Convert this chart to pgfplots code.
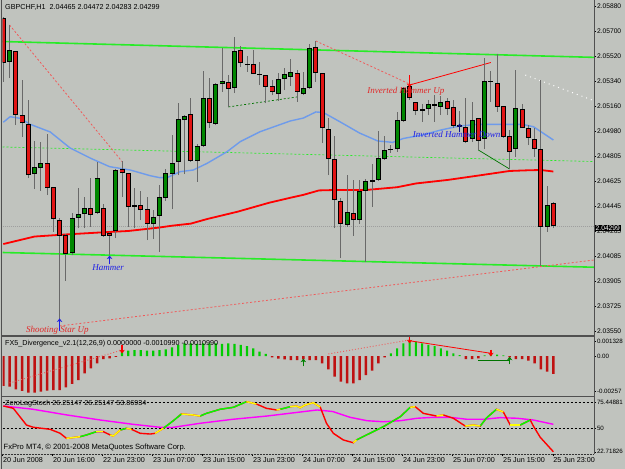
\documentclass[border=0pt]{standalone}
\usepackage{pgfplots}
\pgfplotsset{compat=1.18}
\usepackage{pgfplotstable}
\usepackage{fontspec}
\setmainfont{Liberation Sans}
\newfontfamily\annot{Liberation Serif}
\usetikzlibrary{arrows.meta}

\definecolor{bg}{RGB}{192,195,190}
\definecolor{cred}{RGB}{225,20,20}
\definecolor{cgreen}{RGB}{0,135,0}
\definecolor{wick}{RGB}{105,105,105}
\definecolor{lime}{RGB}{40,235,40}
\definecolor{mablue}{RGB}{110,155,235}
\definecolor{frame}{RGB}{80,80,80}
\definecolor{salmon}{RGB}{240,90,90}
\definecolor{mag}{RGB}{255,0,255}
\definecolor{yel}{RGB}{255,255,0}
\definecolor{annred}{RGB}{225,40,40}
\definecolor{annblue}{RGB}{30,30,230}

\newcommand{\tf}{\fontsize{7.2bp}{8bp}\selectfont}
\newcommand{\yf}{\fontsize{6.7bp}{7.5bp}\selectfont}
\newcommand{\pf}{\fontsize{6.2bp}{7bp}\selectfont}

\pgfplotstableread{
k o h l c
1 2.05482 2.05748 2.05366 2.05568
5 2.04675 2.04913 2.04567 2.04726
6 2.04718 2.04906 2.04553 2.04754
11 2.04106 2.04394 2.04092 2.04358
12 2.04358 2.04574 2.04286 2.04387
13 2.04387 2.0451 2.04286 2.0443
15 2.04394 2.04762 2.04387 2.04646
18 2.04265 2.04711 2.04214 2.04704
24 2.04315 2.04416 2.04207 2.04366
25 2.04373 2.04596 2.04114 2.0451
26 2.04502 2.04711 2.04481 2.04682
27 2.04675 2.04956 2.04423 2.04754
28 2.04762 2.05186 2.04668 2.05071
29 2.05064 2.051 2.04675 2.05093
31 2.04769 2.04891 2.04618 2.04877
32 2.04877 2.05417 2.0487 2.05222
34 2.05035 2.0533 2.05028 2.05323
35 2.05323 2.05582 2.05266 2.05345
37 2.05294 2.05662 2.05258 2.05561
44 2.05251 2.05402 2.05201 2.05359
45 2.05359 2.05438 2.0528 2.05395
46 2.05374 2.05503 2.05309 2.0541
48 2.05251 2.0541 2.05244 2.05294
49 2.05294 2.05611 2.05287 2.05582
55 2.04308 2.04668 2.04294 2.04402
57 2.04344 2.04632 2.04315 2.04553
58 2.04553 2.04639 2.04042 2.04625
59 2.04618 2.04747 2.04438 2.04632
60 2.04632 2.04985 2.04625 2.0479
61 2.04783 2.04949 2.04776 2.04848
63 2.04855 2.05122 2.04834 2.05064
64 2.05057 2.05302 2.0505 2.05294
68 2.05143 2.05208 2.051 2.05179
70 2.05158 2.05237 2.051 2.05194
75 2.04927 2.05194 2.04906 2.05064
77 2.04927 2.0551 2.04855 2.05345
82 2.04855 2.05424 2.04798 2.0515
87 2.04294 2.04589 2.04258 2.04452
}\bull

\pgfplotstableread{
k o h l c
0 2.05798 2.05806 2.05338 2.05474
2 2.05561 2.05561 2.05028 2.051
3 2.051 2.05352 2.04942 2.05042
4 2.05035 2.05208 2.04646 2.04668
7 2.04754 2.04963 2.04524 2.04574
8 2.04582 2.04582 2.04258 2.04351
9 2.04344 2.04358 2.03566 2.04229
10 2.04236 2.04243 2.03905 2.04099
14 2.0443 2.04646 2.04294 2.0438
16 2.0443 2.04459 2.04222 2.04229
17 2.0425 2.04258 2.04092 2.04229
19 2.04711 2.04769 2.0451 2.04682
20 2.04682 2.04682 2.04294 2.04438
21 2.04445 2.04574 2.04286 2.04441
22 2.04452 2.04553 2.04344 2.04416
23 2.04423 2.0451 2.042 2.04315
30 2.05107 2.05222 2.04762 2.04769
33 2.05222 2.05366 2.05006 2.05042
36 2.05338 2.05388 2.05158 2.05287
38 2.05568 2.05597 2.05446 2.05474
39 2.05467 2.05525 2.0541 2.0546
40 2.05467 2.05568 2.05395 2.05395
41 2.05395 2.05482 2.05316 2.05388
42 2.05388 2.05388 2.05186 2.05302
43 2.05309 2.05352 2.05244 2.05266
47 2.05402 2.05424 2.05194 2.05266
50 2.0559 2.05633 2.05338 2.05402
51 2.05402 2.05402 2.04898 2.05006
52 2.04999 2.05078 2.04668 2.04783
53 2.04783 2.04949 2.04286 2.04488
54 2.04481 2.04502 2.0407 2.04315
56 2.04394 2.04632 2.04229 2.04344
62 2.04848 2.04884 2.04827 2.04845
65 2.05309 2.05352 2.05208 2.05222
66 2.05194 2.05194 2.051 2.05129
67 2.05136 2.05179 2.0505 2.05132
69 2.05172 2.05244 2.0505 2.05168
71 2.05201 2.05222 2.051 2.05143
72 2.05158 2.05208 2.05006 2.05021
73 2.05028 2.05129 2.04978 2.05014
74 2.05014 2.05222 2.04898 2.04906
76 2.05078 2.05078 2.04848 2.04913
78 2.05345 2.05417 2.05194 2.05338
79 2.0533 2.05539 2.05122 2.05158
80 2.05165 2.05165 2.04934 2.04942
81 2.04949 2.04992 2.04711 2.04834
83 2.05143 2.05179 2.05006 2.05006
84 2.05006 2.05028 2.04884 2.04934
85 2.04927 2.05006 2.04798 2.04855
86 2.04855 2.05352 2.04013 2.04294
88 2.04465 2.04472 2.04283 2.04299
}\bear

\pgfplotstableread{
k v
0 2.04171
5 2.04225
10 2.0424
15 2.04253
20 2.04265
25 2.0429
27 2.04303
30 2.04318
32.6 2.04351
37.5 2.04404
42.5 2.04468
46 2.04505
48 2.04525
50.5 2.04557
53 2.0456
58 2.0456
63 2.0458
66 2.04607
71 2.04632
76 2.04664
81 2.04697
84 2.04702
86 2.04704
88 2.04693
}\redma

\pgfplotstableread{
k v
0 2.05048
1.1 2.05088
2.7 2.05076
4.3 2.05033
7.5 2.04978
10.7 2.04862
13.9 2.0479
17 2.04728
20.3 2.04704
23.5 2.04663
25 2.04649
26.2 2.04649
28.3 2.04692
30.4 2.04704
32.6 2.04752
35.8 2.04836
37.9 2.04908
41.1 2.0498
45.9 2.05057
48 2.05078
50 2.05122
51.2 2.05118
53.9 2.0505
57 2.0497
59.9 2.04913
62.3 2.04903
64 2.04931
67 2.04956
70 2.04992
73 2.05021
76 2.05033
80 2.05033
83 2.05033
84.8 2.05016
88 2.0492
}\bluema

\pgfplotstableread{
k v
0 -0.00222
1 -0.00227
2 -0.00247
3 -0.00259
4 -0.00272
5 -0.00272
6 -0.00264
7 -0.00257
8 -0.00252
9 -0.00252
10 -0.00232
11 -0.00207
12 -0.00178
13 -0.00128
14 -0.00091
15 -0.00054
16 -0.00024
17 -0.00017
18 -0.00007
43 -0.00010
44 -0.00020
45 -0.00025
46 -0.00030
47 -0.00030
48 -0.00025
49 -0.00030
50 -0.00030
51 -0.00054
52 -0.00099
53 -0.00153
54 -0.00190
55 -0.00202
56 -0.00202
57 -0.00178
58 -0.00141
59 -0.00109
60 -0.00054
61 -0.00010
74 -0.00024
75 -0.00024
76 -0.00017
81 -0.00010
82 -0.00024
83 -0.00024
84 -0.00035
85 -0.00054
86 -0.00099
87 -0.00116
88 -0.00133
}\histneg

\pgfplotstableread{
k v
19 0.00039
20 0.00039
21 0.00044
22 0.00044
23 0.00039
24 0.00039
25 0.00044
26 0.00050
27 0.00064
28 0.00082
29 0.00094
30 0.00094
31 0.00089
32 0.00094
33 0.00094
34 0.00094
35 0.00089
36 0.00094
37 0.00089
38 0.00082
39 0.00074
40 0.00057
41 0.00032
42 0.00015
62 0.00020
63 0.00057
64 0.00094
65 0.00119
66 0.00106
67 0.00094
68 0.00082
69 0.00074
70 0.00057
71 0.00039
72 0.00020
73 0.00007
77 0.00005
78 0.00010
79 0.00010
80 0.00005
}\histpos

\pgfplotstableread{
k v
0 71.8
4.75 68.6
10.2 63.0
15.5 58.1
20.75 53.9
25.1 51.0
27 50.8
31.5 54.9
36.7 58.8
42.2 62.0
47.5 65.9
50.2 67.9
52.7 66.4
55.5 60.7
58.2 57.4
60.8 56.4
63.5 57.4
66.2 59.8
68.8 60.7
71.5 60.7
74.2 58.8
76.8 58.8
79.5 60.4
82.2 59.8
84.8 58.1
88 53.9
}\signal

\pgfplotstableread{
k v
0 71.8
1.6 69.5
3.7 53.2
4.8 51.0
7.5 49.0
9.1 45.1
10.1 40.2
12.3 41.8
13.3 43.5
14.9 46.7
16.0 46.7
17.1 43.5
17.6 42.5
18.7 48.3
19.7 50.0
20.5 49.0
21.9 45.1
23.5 44.4
24.3 45.1
25.6 50.0
27.2 57.4
28.5 64.0
30.4 63.0
31.5 62.0
32.5 64.6
34.7 68.6
36.8 70.5
38.9 76.0
40.5 73.7
42.1 69.5
43.7 67.9
44.3 68.6
45.9 71.1
46.9 71.8
47.5 70.1
48.3 72.8
49.6 75.0
50.7 70.8
51.7 54.9
52.8 45.1
54.4 38.6
56.0 35.9
56.5 38.6
58.1 43.5
60.8 51.6
63.5 61.3
65.1 70.5
65.9 71.1
67.2 64.6
69.3 62.0
70.4 63.0
72.0 59.8
73.9 52.2
75.2 53.2
76.3 52.2
77.3 60.1
78.9 68.6
80.0 65.9
81.1 53.2
82.7 53.2
84.3 58.1
84.8 52.2
85.9 41.2
88.0 27.1
}\stoch

\tikzset{ann/.style={anchor=west, inner sep=0pt, font=\annot\itshape\fontsize{9bp}{10bp}\selectfont}}

\pgfplotsset{
  mt/.style={scale only axis, width=591.5bp, xmin=-0.13, xmax=94.5,
    axis line style={draw=none}, tick style={black, line width=0.5bp},
    tick align=outside, major tick length=2.2bp, xtick=\empty,
    ytick pos=right, yticklabel pos=right,
    scaled y ticks=false, scaled x ticks=false,
    ticklabel style={font=\tf, inner sep=0.6bp},
    yticklabel style={font=\yf},
    /pgf/number format/assume math mode=true},
  wickst/.style={draw=none, mark=none, error bars/.cd, y dir=plus, y explicit,
    error mark=none, error bar style={draw=wick, line width=0.9bp}},
  bodyo/.style={draw=none, mark=none, error bars/.cd, y dir=plus, y explicit,
    error mark=none, error bar style={draw=black, line width=5bp}},
  bodyi/.style={draw=none, mark=none, error bars/.cd, y dir=plus, y explicit,
    error mark=none, error bar style={draw=#1, line width=3.2bp}},
  arr/.style={line width=1.6bp, -{Stealth[length=3.5bp,width=5.5bp]}},
  sg/.style={green, line width=1.4bp, restrict x to domain=#1},
  sy/.style={yel, line width=1.4bp, restrict x to domain=#1},
}

\begin{document}
\begin{tikzpicture}
\useasboundingbox (0,0) rectangle (625bp,-469bp);
\fill[bg] (0,0) rectangle (625bp,-469bp);

% ---------- main price panel ----------
\begin{axis}[mt, at={(2.5bp,-335bp)}, anchor=south west, height=334bp,
  ymin=2.03516, ymax=2.059208,
  ytick={2.0354,2.0372,2.0390,2.0408,2.0426,2.0444,2.0462,2.0480,2.0498,2.0516,2.0534,2.0552,2.0570,2.0588},
  yticklabels={2.03550,2.03725,2.03905,2.04085,2.04265,2.04445,2.04625,2.04805,2.04980,2.05160,2.05340,2.05520,2.05700,2.05880}]
\addplot[lime, line width=1.6bp] coordinates {(-0.13,2.05629) (94.5,2.05515)};
\addplot[lime, line width=1.6bp] coordinates {(-0.13,2.04110) (94.5,2.04004)};
\addplot[lime, dash pattern=on 2bp off 2bp, line width=0.7bp] coordinates {(-0.13,2.04870) (94.5,2.04765)};
\addplot[gray!75, dash pattern=on 1bp off 1bp, line width=0.8bp] coordinates {(-0.13,2.04299) (94.5,2.04299)};
\addplot[red, line width=1.8bp] table[x=k,y=v] {\redma};
\addplot[mablue, line width=1.4bp] table[x=k,y=v] {\bluema};
\addplot[salmon, dash pattern=on 2bp off 2bp, line width=0.8bp] coordinates {(1,2.05748) (19,2.04765)};
\addplot[salmon, dash pattern=on 2bp off 2bp, line width=0.8bp] coordinates {(9,2.03581) (94.5,2.04056)};
\addplot[salmon, dash pattern=on 2bp off 2bp, line width=0.8bp] coordinates {(50,2.05633) (65,2.05323)};
\addplot[red, line width=0.8bp] coordinates {(65,2.05316) (78,2.05478)};
\addplot[white, dash pattern=on 1bp off 4bp, line width=1bp] coordinates {(83.5,2.05388) (94.2,2.05208)};
\addplot[green!45!black, dash pattern=on 2bp off 2bp, line width=0.7bp] coordinates {(36,2.05158) (47,2.0523)};
\addplot[green!45!black, line width=0.7bp] coordinates {(76,2.04848) (81,2.04711)};
% wicks
\addplot[wickst] table[x=k, y=l, y error plus expr={\thisrow{h}-\thisrow{l}}] {\bull};
\addplot[wickst] table[x=k, y=l, y error plus expr={\thisrow{h}-\thisrow{l}}] {\bear};
% bodies
\addplot[bodyo] table[x=k, y expr={min(\thisrow{o},\thisrow{c})}, y error plus expr={max(abs(\thisrow{c}-\thisrow{o}),0.00008)}] {\bull};
\addplot[bodyo] table[x=k, y expr={min(\thisrow{o},\thisrow{c})}, y error plus expr={max(abs(\thisrow{c}-\thisrow{o}),0.00008)}] {\bear};
\addplot[bodyi=cgreen] table[x=k, y expr={min(\thisrow{o},\thisrow{c})+0.00007}, y error plus expr={max(abs(\thisrow{c}-\thisrow{o})-0.00014,0)}] {\bull};
\addplot[bodyi=cred] table[x=k, y expr={min(\thisrow{o},\thisrow{c})+0.00007}, y error plus expr={max(abs(\thisrow{c}-\thisrow{o})-0.00014,0)}] {\bear};
% pattern arrows
\addplot[annblue, arr] coordinates {(9,2.03545) (9,2.03635)};
\addplot[annblue, arr] coordinates {(17,2.04025) (17,2.04088)};
\addplot[red, arr] coordinates {(65,2.05385) (65,2.05300)};
\addplot[annblue!60!black, arr] coordinates {(73,2.04975) (73,2.05038)};
\node[annred, ann] at (axis cs:3.6,2.03552) {Shooting Star Up};
\node[annblue, ann] at (axis cs:14.2,2.0400) {Hammer};
\node[annred, ann] at (axis cs:58.2,2.05273) {Inverted Hammer Up};
\node[annblue, ann] at (axis cs:65.5,2.04963) {Inverted Hammer Down};
\end{axis}

% ---------- divergence panel ----------
\begin{axis}[mt, at={(2.5bp,-395bp)}, anchor=south west, height=58bp,
  ymin=-0.00289, ymax=0.001408, yticklabel style={font=\pf},
  ytick={-0.002645,0,0.00106}, yticklabels={-0.00257,0.00,0.001328}]
\addplot[ybar, bar shift=0pt, bar width=2.6bp, fill=cred!85!black, draw=none] table[x=k,y=v] {\histneg};
\addplot[ybar, bar shift=0pt, bar width=2.2bp, fill=green!80!black, draw=none] table[x=k,y=v] {\histpos};
\addplot[salmon, dash pattern=on 1bp off 2bp, line width=0.9bp] coordinates {(1,-0.0020) (19,0.00044)};
\addplot[salmon, dash pattern=on 1bp off 2bp, line width=0.9bp] coordinates {(52,0.00015) (65,0.00119)};
\addplot[red, line width=0.8bp] coordinates {(65,0.00113) (78,0.0002)};
\addplot[green!45!black, line width=0.8bp] coordinates {(76,-0.0003) (81,-0.0003)};
\addplot[red, arr] coordinates {(19,0.00078) (19,0.00020)};
\addplot[red, arr] coordinates {(65,0.00150) (65,0.00094)};
\addplot[red, arr] coordinates {(78,0.00048) (78,-0.00002)};
\addplot[green!50!black, arr] coordinates {(48,-0.00076) (48,-0.00020)};
\addplot[green!50!black, arr] coordinates {(81,-0.00062) (81,-0.00006)};
\end{axis}

% ---------- stochastic panel ----------
\begin{axis}[mt, at={(2.5bp,-454bp)}, anchor=south west, height=56bp,
  ymin=24.9, ymax=79.59, yticklabel style={font=\pf},
  ytick={27.1,50,75}, yticklabels={22.71826,50,75.44881},
  xtick={-0.1,7.9,15.9,23.9,31.9,39.9,47.9,55.9,63.9,71.9,79.9,87.9},
  xtick pos=bottom,
  xticklabels={20 Jun 2008,20 Jun 16:00,22 Jun 23:00,23 Jun 07:00,23 Jun 15:00,23 Jun 23:00,24 Jun 07:00,24 Jun 15:00,24 Jun 23:00,25 Jun 07:00,25 Jun 15:00,25 Jun 23:00},
  xticklabel style={anchor=north west, xshift=-0.3bp, yshift=-0.5bp}]
\addplot[black, dash pattern=on 2bp off 2bp, line width=0.6bp] coordinates {(-0.13,75) (94.5,75)};
\addplot[black, dash pattern=on 2bp off 2bp, line width=0.6bp] coordinates {(-0.13,50) (94.5,50)};
\addplot[mag, line width=1.4bp] table[x=k,y=v] {\signal};
\addplot[red, line width=1.4bp] table[x=k,y=v] {\stoch};
\addplot[sg={12.3:14.9}] table[x=k,y=v] {\stoch};
\addplot[sg={18.7:19.7}] table[x=k,y=v] {\stoch};
\addplot[sg={25.6:28.5}] table[x=k,y=v] {\stoch};
\addplot[sg={31.5:38.9}] table[x=k,y=v] {\stoch};
\addplot[sg={44.3:45.9}] table[x=k,y=v] {\stoch};
\addplot[sg={56.5:65.1}] table[x=k,y=v] {\stoch};
\addplot[sg={76.3:78.9}] table[x=k,y=v] {\stoch};
\addplot[sg={82.7:84.3}] table[x=k,y=v] {\stoch};
\addplot[sy={10.1:12.3}] table[x=k,y=v] {\stoch};
\addplot[sy={14.9:16.0}] table[x=k,y=v] {\stoch};
\addplot[sy={17.1:18.7}] table[x=k,y=v] {\stoch};
\addplot[sy={19.7:20.5}] table[x=k,y=v] {\stoch};
\addplot[sy={24.3:25.6}] table[x=k,y=v] {\stoch};
\addplot[sy={28.5:31.5}] table[x=k,y=v] {\stoch};
\addplot[sy={38.9:40.5}] table[x=k,y=v] {\stoch};
\addplot[sy={43.7:44.3}] table[x=k,y=v] {\stoch};
\addplot[sy={45.9:50.7}] table[x=k,y=v] {\stoch};
\addplot[sy={56.0:56.5}] table[x=k,y=v] {\stoch};
\addplot[sy={65.1:65.9}] table[x=k,y=v] {\stoch};
\addplot[sy={69.3:70.4}] table[x=k,y=v] {\stoch};
\addplot[sy={73.9:76.3}] table[x=k,y=v] {\stoch};
\addplot[sy={78.9:80.0}] table[x=k,y=v] {\stoch};
\addplot[sy={81.1:82.7}] table[x=k,y=v] {\stoch};
\end{axis}

% ---------- frames and texts ----------
\draw[frame, line width=1bp] (594bp,0) -- (594bp,-454bp);
\draw[frame, line width=1.2bp] (1.5bp,0) -- (1.5bp,-469bp);
\draw[frame, line width=1.6bp] (1.5bp,-335.8bp) -- (594bp,-335.8bp);
\draw[frame, line width=1.6bp] (1.5bp,-396.6bp) -- (594bp,-396.6bp);
\draw[black!80, line width=0.8bp, dash pattern=on 2bp off 1bp] (1.5bp,-454bp) -- (594bp,-454bp);
\node[anchor=west, inner sep=0pt, font=\tf] at (5bp,-7bp) {GBPCHF,H1\ \ 2.04465 2.04472 2.04283 2.04299};
\node[anchor=west, inner sep=0pt, font=\tf] at (5bp,-344bp) {FX5\_Divergence\_v2.1(12,26,9) 0.0000000 -0.0010990 -0.0010990};
\node[anchor=west, inner sep=0pt, font=\tf] at (5bp,-404bp) {ZeroLagStoch 26.25147 26.25147 53.86934};
\node[anchor=west, inner sep=0pt, font=\fontsize{7.6bp}{8bp}\selectfont] at (3.5bp,-448bp) {FxPro MT4, \textcopyright\ 2001-2008 MetaQuotes Software Corp.};
\node[anchor=west, fill=black, text=white, inner sep=1bp, font=\yf] at (594.5bp,-228bp) {2.04299};
\end{tikzpicture}
\end{document}
